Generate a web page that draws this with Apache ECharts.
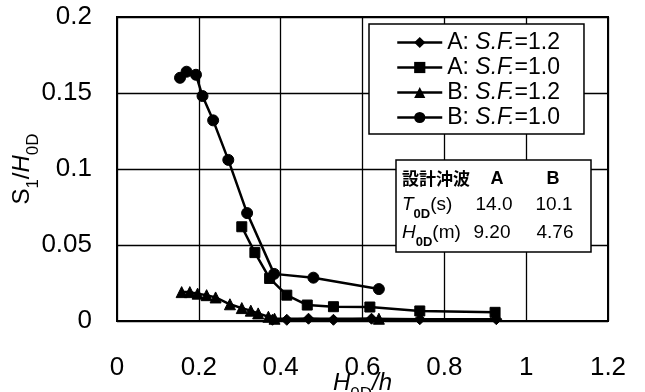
<!DOCTYPE html>
<html>
<head>
<meta charset="utf-8">
<script src="https://cdn.jsdelivr.net/npm/echarts@6/dist/echarts.min.js"></script>
<style>html,body{margin:0;padding:0;background:#fff;}#c{width:645px;height:392px;}</style>
</head>
<body>
<div id="c"></div>
<script>
// ---- data ----
const seriesNames = ['A12', 'A10', 'B12', 'B10'];
const legendLabels = {A12: ['A: ', 'S.F.', '=1.2'], A10: ['A: ', 'S.F.', '=1.0'], B12: ['B: ', 'S.F.', '=1.2'], B10: ['B: ', 'S.F.', '=1.0']};
const A12 = [[0.380,0.0008],[0.415,0.0008],[0.468,0.0015],[0.529,0.0008],[0.622,0.0015],[0.740,0.0012],[0.927,0.0012]];
const A10 = [[0.305,0.062],[0.337,0.045],[0.373,0.028],[0.415,0.017],[0.465,0.0105],[0.529,0.0094],[0.618,0.0092],[0.740,0.0066],[0.924,0.0057]];
const B12 = [[0.158,0.019],[0.178,0.019],[0.197,0.018],[0.219,0.017],[0.241,0.0155],[0.276,0.011],[0.305,0.0085],[0.327,0.0068],[0.345,0.005],[0.370,0.0028],[0.385,0.0015],[0.640,0.0015]];
const B10 = [[0.154,0.160],[0.170,0.164],[0.193,0.162],[0.209,0.148],[0.235,0.132],[0.272,0.106],[0.318,0.071],[0.384,0.031],[0.480,0.0285],[0.640,0.021]];
const xTicks = [0, 0.2, 0.4, 0.6, 0.8, 1, 1.2];
const yTicks = [0, 0.05, 0.1, 0.15, 0.2];
const tableHeader = ['設計沖波', 'A', 'B'];
const tableT = ['14.0', '10.1'];
const tableH = ['9.20', '4.76'];

const FONT = '"Liberation Sans", Arial, sans-serif';
const CJK = '"Noto Sans CJK JP", sans-serif';
const symbols = {A12: 'diamond', A10: 'rect', B12: 'triangle', B10: 'circle'};
const sizes = {A12: 11, A10: 10, B12: 11, B10: 11};
const dataMap = {A12, A10, B12, B10};

const chart = echarts.init(document.getElementById('c'), null, {renderer: 'canvas'});
const option = {
  animation: false,
  backgroundColor: '#fff',
  grid: {left: 117, right: 37, top: 17, bottom: 71, containLabel: false, outerBoundsMode: 'none',
    show: true, borderColor: '#000', borderWidth: 2, backgroundColor: 'transparent'},
  xAxis: {
    type: 'value', min: xTicks[0], max: xTicks[xTicks.length - 1], interval: 0.2,
    axisLine: {show: true, lineStyle: {color: '#000', width: 2}},
    axisTick: {show: false},
    splitLine: {show: true, lineStyle: {color: '#000', width: 1.3}},
    axisLabel: {color: '#000', fontFamily: FONT, fontSize: 26, margin: 34,
      formatter: v => String(xTicks.find(t => Math.abs(t - v) < 1e-9) ?? v)},
    name: '{i|H}{s|0D}{i|/h}',
    nameLocation: 'middle', nameGap: 49, nameMoveOverlap: false,
    nameTextStyle: {rich: {
      i: {fontFamily: FONT, fontSize: 24, fontStyle: 'italic', color: '#000', lineHeight: 26},
      s: {fontFamily: FONT, fontSize: 17, color: '#000', verticalAlign: 'bottom', lineHeight: 26, padding: [0, 0, -7, 0]}
    }}
  },
  yAxis: {
    type: 'value', min: yTicks[0], max: yTicks[yTicks.length - 1], interval: 0.05,
    axisLine: {show: true, lineStyle: {color: '#000', width: 2}},
    axisTick: {show: false},
    splitLine: {show: true, lineStyle: {color: '#000', width: 1.3}},
    axisLabel: {color: '#000', fontFamily: FONT, fontSize: 26, margin: 25,
      formatter: v => String(yTicks.find(t => Math.abs(t - v) < 1e-9) ?? v)},
    name: '{n|S}{s|1}{n|/}{i|H}{s|0D}',
    nameLocation: 'middle', nameGap: 82, nameMoveOverlap: false,
    nameTextStyle: {rich: {
      n: {fontFamily: FONT, fontSize: 24, color: '#000', lineHeight: 26},
      i: {fontFamily: FONT, fontSize: 24, fontStyle: 'italic', color: '#000', lineHeight: 26},
      s: {fontFamily: FONT, fontSize: 17, color: '#000', verticalAlign: 'bottom', lineHeight: 26, padding: [0, 0, -7, 0]}
    }}
  },
  legend: {
    orient: 'vertical', left: 369, top: 24,
    data: seriesNames,
    backgroundColor: '#fff', borderColor: '#000', borderWidth: 1.5,
    padding: [7, 24, 5, 27],
    itemWidth: 45, itemHeight: 14, itemGap: 2,
    lineStyle: {color: '#000', width: 2.5},
    itemStyle: {color: '#000'},
    formatter: name => { const p = legendLabels[name]; return '{n|' + p[0] + '}{i|' + p[1] + '}{n|' + p[2] + '}'; },
    textStyle: {color: '#000', fontFamily: FONT, fontSize: 23, lineHeight: 22, padding: [0, 0, 0, 0],
      rich: {
        n: {fontFamily: FONT, fontSize: 23, color: '#000', lineHeight: 22},
        i: {fontFamily: FONT, fontSize: 23, fontStyle: 'italic', color: '#000', lineHeight: 22}
      }}
  },
  graphic: [
    {type: 'rect', z: 100, shape: {x: 396, y: 160, width: 195, height: 92}, style: {fill: '#fff', stroke: '#000', lineWidth: 1.5}},
    {type: 'text', z: 101, x: 402, y: 179, style: {text: tableHeader[0], font: 'bold 17px ' + CJK, fill: '#000', verticalAlign: 'middle'}},
    {type: 'text', z: 101, x: 497, y: 179, style: {text: tableHeader[1], font: 'bold 18px ' + FONT, fill: '#000', align: 'center', verticalAlign: 'middle'}},
    {type: 'text', z: 101, x: 553, y: 179, style: {text: tableHeader[2], font: 'bold 18px ' + FONT, fill: '#000', align: 'center', verticalAlign: 'middle'}},
    {type: 'text', z: 101, x: 402, y: 205, style: {text: '{i|T}{s|0D}{n|(s)}', verticalAlign: 'middle',
      rich: {i: {font: 'italic 19px ' + FONT, fill: '#000', lineHeight: 22}, n: {font: '19px ' + FONT, fill: '#000', lineHeight: 22},
             s: {font: 'bold 13px ' + FONT, fill: '#000', verticalAlign: 'bottom', lineHeight: 22, padding: [0, 0, -5, 0]}}}},
    {type: 'text', z: 101, x: 494, y: 205, style: {text: tableT[0], font: '19px ' + FONT, fill: '#000', align: 'center', verticalAlign: 'middle'}},
    {type: 'text', z: 101, x: 554, y: 205, style: {text: tableT[1], font: '19px ' + FONT, fill: '#000', align: 'center', verticalAlign: 'middle'}},
    {type: 'text', z: 101, x: 402, y: 233, style: {text: '{i|H}{s|0D}{n|(m)}', verticalAlign: 'middle',
      rich: {i: {font: 'italic 19px ' + FONT, fill: '#000', lineHeight: 22}, n: {font: '19px ' + FONT, fill: '#000', lineHeight: 22},
             s: {font: 'bold 13px ' + FONT, fill: '#000', verticalAlign: 'bottom', lineHeight: 22, padding: [0, 0, -5, 0]}}}},
    {type: 'text', z: 101, x: 492, y: 233, style: {text: tableH[0], font: '19px ' + FONT, fill: '#000', align: 'center', verticalAlign: 'middle'}},
    {type: 'text', z: 101, x: 555, y: 233, style: {text: tableH[1], font: '19px ' + FONT, fill: '#000', align: 'center', verticalAlign: 'middle'}}
  ],
  series: seriesNames.map(n => ({
    name: n, type: 'line', data: dataMap[n],
    symbol: symbols[n], symbolSize: sizes[n], showSymbol: true,
    lineStyle: {color: '#000', width: 2.5},
    itemStyle: {color: '#000', borderColor: '#000'},
    z: 5
  }))
};
chart.setOption(option);
</script>
</body>
</html>
